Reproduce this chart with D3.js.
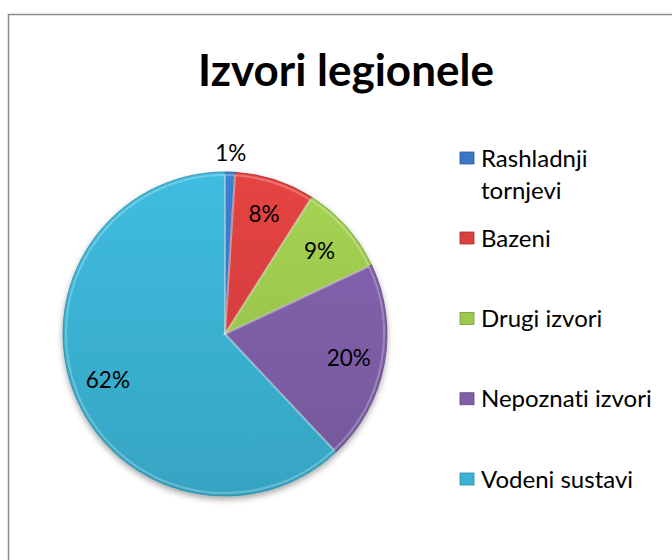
<!DOCTYPE html>
<html>
<head>
<meta charset="utf-8">
<script src="https://cdn.jsdelivr.net/npm/d3@7"></script>
<style>
  body { margin: 0; background: #fff; }
  svg { display: block; font-family: Lato, "Open Sans", sans-serif; font-variant-ligatures: none; }
</style>
</head>
<body>
<div id="chart"></div>
<script>
// chart data
var categories = ["Rashladnji tornjevi", "Bazeni", "Drugi izvori", "Nepoznati izvori", "Vodeni sustavi"];
var values = [1, 8, 9, 20, 62];
var labels = ["1%", "8%", "9%", "20%", "62%"];
var colors = ["#3a78c6", "#d9403f", "#9dc94f", "#7f5fa8", "#3bb3d4"];

var width = 672, height = 560;
var cx = 225, cy = 334, radius = 162;

var svg = d3.select("#chart").append("svg")
    .attr("width", width)
    .attr("height", height);

// chart frame (right and bottom edges fall off the picture)
svg.append("rect")
    .attr("x", 8.5).attr("y", 14.5)
    .attr("width", 700).attr("height", 600)
    .attr("fill", "#fff")
    .attr("stroke", "#8c8c8c")
    .attr("stroke-width", 1.5);

svg.append("text")
    .attr("x", 346).attr("y", 86)
    .attr("text-anchor", "middle")
    .attr("font-size", 44)
    .attr("font-weight", "bold")
    .text("Izvori legionele");

var defs = svg.append("defs");

// soft shadow under the pie
var blur = defs.append("filter").attr("id", "shadow")
    .attr("x", "-20%").attr("y", "-20%").attr("width", "140%").attr("height", "140%");
blur.append("feGaussianBlur").attr("in", "SourceAlpha").attr("stdDeviation", 3);
blur.append("feOffset").attr("dx", 0).attr("dy", 3).attr("result", "b");
blur.append("feComponentTransfer").append("feFuncA").attr("type", "linear").attr("slope", 0.35);
var merge = blur.append("feMerge");
merge.append("feMergeNode");
merge.append("feMergeNode").attr("in", "SourceGraphic");

// a gradient per slice for the bevelled look
colors.forEach(function(c, i) {
  var g = defs.append("linearGradient")
      .attr("id", "grad" + i)
      .attr("gradientUnits", "userSpaceOnUse")
      .attr("x1", 0).attr("y1", -radius)
      .attr("x2", 0).attr("y2", radius);
  g.append("stop").attr("offset", "0%").attr("stop-color", d3.color(c).brighter(0.15));
  g.append("stop").attr("offset", "100%").attr("stop-color", d3.color(c).darker(0.25));
});

var pie = d3.pie().sort(null).value(function(d) { return d; });
var arc = d3.arc().innerRadius(0).outerRadius(radius);
var bevel = d3.arc().innerRadius(0).outerRadius(radius - 3);
var labelArc = d3.arc().innerRadius(126).outerRadius(126);
var outerArc = d3.arc().innerRadius(radius + 19).outerRadius(radius + 19);

var arcs = pie(values);

var g = svg.append("g")
    .attr("transform", "translate(" + cx + "," + cy + ")");

var slices = g.append("g").attr("filter", "url(#shadow)");

slices.selectAll("path.slice")
    .data(arcs)
    .enter().append("path")
    .attr("class", "slice")
    .attr("d", arc)
    .attr("fill", function(d, i) { return "url(#grad" + i + ")"; })
    .attr("stroke", function(d, i) { return d3.color(colors[i]).darker(0.8); })
    .attr("stroke-width", 0.8);

// light inner rim
g.selectAll("path.rim")
    .data(arcs)
    .enter().append("path")
    .attr("class", "rim")
    .attr("d", bevel)
    .attr("fill", "none")
    .attr("stroke", "rgba(255,255,255,0.25)")
    .attr("stroke-width", 2);

g.selectAll("text.pct")
    .data(arcs)
    .enter().append("text")
    .attr("class", "pct")
    .attr("transform", function(d, i) {
      var p = (i === 0) ? outerArc.centroid(d) : labelArc.centroid(d);
      return "translate(" + p + ")";
    })
    .attr("text-anchor", "middle")
    .attr("dy", "0.36em")
    .attr("font-size", 22.5)
    .attr("fill", "#000")
    .text(function(d, i) { return labels[i]; });

// legend
var legendRows = [
  ["Rashladnji", "tornjevi"],
  ["Bazeni"],
  ["Drugi izvori"],
  ["Nepoznati izvori"],
  ["Vodeni sustavi"]
];
var legendY = d3.scalePoint().domain(d3.range(categories.length)).range([158, 479]);

var legend = svg.append("g");
var item = legend.selectAll("g.item")
    .data(categories)
    .enter().append("g")
    .attr("class", "item")
    .attr("transform", function(d, i) {
      var y = i === 0 ? 158 : i === 1 ? 238 : legendY(i);
      return "translate(460," + y + ")";
    });

item.append("rect")
    .attr("x", 0).attr("y", -6)
    .attr("width", 14).attr("height", 12)
    .attr("fill", function(d, i) { return colors[i]; })
    .attr("stroke", function(d, i) { return d3.color(colors[i]).darker(0.8); })
    .attr("stroke-width", 0.8);

item.append("text")
    .attr("x", 21)
    .attr("font-size", 24)
    .selectAll("tspan")
    .data(function(d, i) { return legendRows[i]; })
    .enter().append("tspan")
    .attr("x", 21)
    .attr("dy", function(d, j) { return j === 0 ? "0.36em" : 32; })
    .text(function(d) { return d; });
</script>
</body>
</html>
